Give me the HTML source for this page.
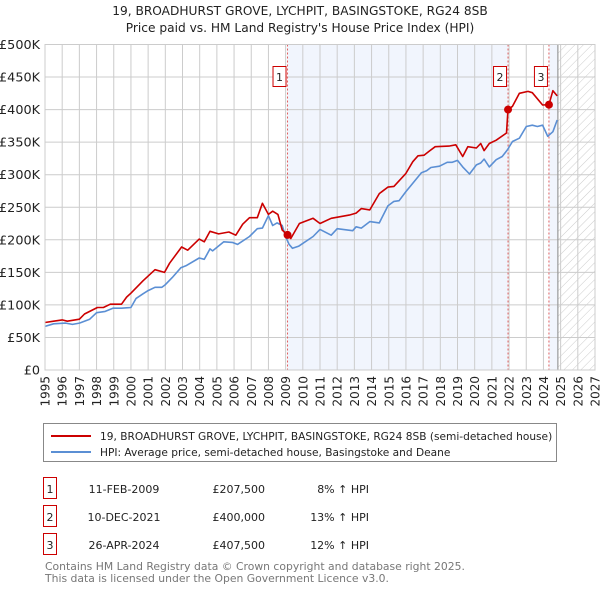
<!DOCTYPE html>
<html><head><meta charset="utf-8">
<style>
body{margin:0;background:#fff;font-family:"Liberation Sans","DejaVu Sans",sans-serif;}
#wrap{position:relative;width:600px;height:590px;overflow:hidden;}
svg text{font-family:"DejaVu Sans","Liberation Sans",sans-serif;}
</style></head>
<body><div id="wrap">
<svg id="svg" width="600" height="590" xmlns="http://www.w3.org/2000/svg">
<defs>
<pattern id="hatch" width="6" height="6" patternUnits="userSpaceOnUse" patternTransform="rotate(45)">
<line x1="0" y1="0" x2="0" y2="6" stroke="#ccc" stroke-width="1"/>
</pattern>
</defs>
<text x="300" y="15" text-anchor="middle" font-size="12.2" fill="#222">19, BROADHURST GROVE, LYCHPIT, BASINGSTOKE, RG24 8SB</text>
<text x="300" y="32" text-anchor="middle" font-size="12.2" fill="#222">Price paid vs. HM Land Registry's House Price Index (HPI)</text>
<g id="plot"></g>
<g>
<rect x="43.5" y="423.5" width="513" height="38" fill="#fff" stroke="#888"/>
<line x1="51" y1="436" x2="91" y2="436" stroke="#cc0000" stroke-width="2"/>
<text x="100" y="440" font-size="10.6" fill="#222">19, BROADHURST GROVE, LYCHPIT, BASINGSTOKE, RG24 8SB (semi-detached house)</text>
<line x1="51" y1="452" x2="91" y2="452" stroke="#5b8fd4" stroke-width="2"/>
<text x="100" y="456" font-size="10.6" fill="#222">HPI: Average price, semi-detached house, Basingstoke and Deane</text>
</g>
<g id="table" font-size="11" fill="#222"></g>
<text x="45" y="570" font-size="10.8" fill="#777">Contains HM Land Registry data © Crown copyright and database right 2025.</text>
<text x="45" y="582" font-size="10.8" fill="#777">This data is licensed under the Open Government Licence v3.0.</text>
</svg></div>
<script>
const hpiYears=[1995,1995.5,1996.2,1996.6,1997,1997.1,1997.6,1998,1998.5,1998.95,1999.45,2000,2000.3,2000.7,2001,2001.4,2001.8,2002,2002.4,2002.9,2003.2,2003.97,2004.27,2004.6,2004.75,2005.4,2005.9,2006.2,2006.9,2007.35,2007.65,2008,2008.25,2008.5,2008.8,2009,2009.2,2009.4,2009.75,2010.6,2011,2011.65,2012,2012.9,2013.1,2013.4,2013.9,2014.45,2014.95,2015.3,2015.6,2016,2016.4,2016.9,2017.2,2017.45,2017.95,2018.4,2018.7,2019,2019.3,2019.7,2020.1,2020.35,2020.55,2020.85,2021.25,2021.6,2021.9,2022.2,2022.6,2023,2023.35,2023.65,2023.95,2024.25,2024.55,2024.8];
const hpiValues=[67,71,72,70,72,73,78,88,90,95,95,96,110,117,122,127,127,131,142,157,160,172,170,186,183,197,196,193,205,217,218,237,222,226,222,205,193,187,190,205,216,207,217,214,220,218,228,226,252,259,260,274,287,303,306,311,313,319,319,322,312,301,315,318,324,312,323,328,338,351,356,374,376,374,376,359,366,384,378];
const redYears=[1995,1995.5,1996,1996.3,1997,1997.3,1998.05,1998.4,1998.8,1999.45,1999.75,2000,2000.7,2001.4,2001.95,2002.25,2002.95,2003.3,2003.97,2004.27,2004.6,2005.1,2005.7,2006.1,2006.5,2006.9,2007.35,2007.65,2008,2008.25,2008.55,2008.8,2009.11,2009.3,2009.8,2010.6,2011,2011.65,2012.7,2013.1,2013.4,2013.9,2014.45,2014.95,2015.3,2016,2016.4,2016.7,2017.05,2017.35,2017.7,2018.5,2018.9,2019.3,2019.6,2020.1,2020.35,2020.55,2020.85,2021.25,2021.85,2021.94,2022.2,2022.6,2023.1,2023.35,2023.95,2024.32,2024.55,2024.8];
const redValues=[73,75,77,75,78,86,96,96,101,101,112,118,137,154,150,164,189,184,201,197,213,209,212,207,224,234,234,256,239,244,239,215,207.5,202,225,233,225,233,238,241,248,246,271,281,282,302,320,329,330,336,343,344,346,328,343,341,348,337,348,353,364,400,405,425,428,426,407,407.5,429,421];
const sales=[{label:"1",year:2009.11,value:207.5,date:"11-FEB-2009",price:"£207,500",pct:"8% ↑ HPI"},{label:"2",year:2021.94,value:400,date:"10-DEC-2021",price:"£400,000",pct:"13% ↑ HPI"},{label:"3",year:2024.32,value:407.5,date:"26-APR-2024",price:"£407,500",pct:"12% ↑ HPI"}];
const yTicks=[0,50,100,150,200,250,300,350,400,450,500];
const yTickLabels=["£0","£50K","£100K","£150K","£200K","£250K","£300K","£350K","£400K","£450K","£500K"];
const xTicks=[1995,1996,1997,1998,1999,2000,2001,2002,2003,2004,2005,2006,2007,2008,2009,2010,2011,2012,2013,2014,2015,2016,2017,2018,2019,2020,2021,2022,2023,2024,2025,2026,2027];
const dataEndYear=2024.84;

const X0=45,X1=595,Y0=370,Y1=44.5;
const xs=y=>X0+(y-1995)/(2027-1995)*(X1-X0);
const ys=v=>Y0-v/500*(Y0-Y1);
const NS="http://www.w3.org/2000/svg";
const plot=document.getElementById('plot');
function mk(tag,attrs,parent){const e=document.createElementNS(NS,tag);for(const k in attrs)e.setAttribute(k,attrs[k]);(parent||plot).appendChild(e);return e;}

let r=mk('rect',{x:X0,y:Y1,width:X1-X0,height:Y0-Y1,fill:'#fff'});


let s1=mk('rect',{x:xs(sales[0].year),y:Y1,width:xs(sales[1].year)-xs(sales[0].year),height:Y0-Y1,fill:'#eef2fd',opacity:0.8});


let s2=mk('rect',{x:xs(sales[2].year),y:Y1,width:xs(dataEndYear)-xs(sales[2].year),height:Y0-Y1,fill:'#eef2fd',opacity:0.8});


let h=mk('rect',{x:xs(dataEndYear),y:Y1,width:X1-xs(dataEndYear),height:Y0-Y1,fill:'url(#hatch)'});


xTicks.forEach(t=>{const l=mk('line',{x1:xs(t),x2:xs(t),y1:Y1,y2:Y0,stroke:'#ccc','stroke-width':1});


const tx=mk('text',{x:0,y:0,'font-size':12,fill:'#222','text-anchor':'end',transform:`translate(${xs(t)+4.5},376) rotate(-90)`});tx.textContent=t;

});
yTicks.forEach((t,i)=>{const l=mk('line',{x1:X0,x2:X1,y1:ys(t),y2:ys(t),stroke:'#ccc','stroke-width':1});


const tx=mk('text',{x:40,y:ys(t)+4.5,'font-size':12.8,fill:'#222','text-anchor':'end'});tx.textContent=yTickLabels[i];

});
let dl=mk('line',{x1:xs(dataEndYear),x2:xs(dataEndYear),y1:Y1,y2:Y0,stroke:'#999','stroke-width':1.2});


sales.forEach((s,i)=>{const l=mk('line',{x1:xs(s.year),x2:xs(s.year),y1:Y1,y2:Y0,stroke:'#e06060','stroke-width':1,'stroke-dasharray':'2,2'});

});
function line(xa,va,color,name){const d=xa.map((y,i)=>(i?'L':'M')+xs(y).toFixed(1)+','+ys(va[i]).toFixed(1)).join('');
const p=mk('path',{d:d,fill:'none',stroke:color,'stroke-width':1.6,'stroke-linejoin':'round'});

}
line(hpiYears,hpiValues,'#5b8fd4','hpi-line');
line(redYears,redValues,'#cc0000','price-paid-line');
sales.forEach(s=>{const c=mk('circle',{cx:xs(s.year),cy:ys(s.value),r:4,fill:'#cc0000'});


const b=mk('rect',{x:xs(s.year)-14.5,y:66.5,width:13,height:20,fill:'#fff',stroke:'#cc0000'});


const t=mk('text',{x:xs(s.year)-8,y:81,'font-size':11,fill:'#222','text-anchor':'middle'});t.textContent=s.label;

});
let fr=mk('rect',{x:X0,y:Y1,width:X1-X0,height:Y0-Y1,fill:'none',stroke:'#ccc'});


const tb=document.getElementById('table');
sales.forEach((s,i)=>{const y=489+i*28;
const b=mk('rect',{x:43.5,y:y-11.5,width:13,height:21,fill:'#fff',stroke:'#cc0000'},tb);


const t0=mk('text',{x:50,y:y+4,'text-anchor':'middle'},tb);t0.textContent=s.label;


const t1=mk('text',{x:124,y:y+4,'text-anchor':'middle'},tb);t1.textContent=s.date;


const t2=mk('text',{x:265,y:y+4,'text-anchor':'end'},tb);t2.textContent=s.price;


const t3=mk('text',{x:369,y:y+4,'text-anchor':'end'},tb);t3.textContent=s.pct;

});
</script>
</body></html>
